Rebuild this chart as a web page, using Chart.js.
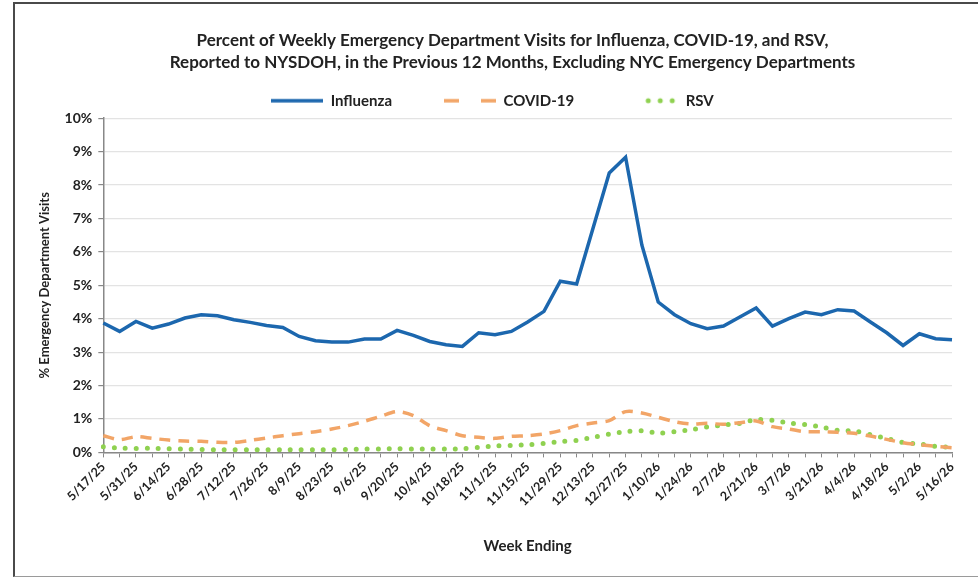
<!DOCTYPE html>
<html>
<head>
<meta charset="utf-8">
<script src="https://cdn.jsdelivr.net/npm/chart.js@4.4.1/dist/chart.umd.min.js"></script>
<style>
    body { margin: 0; background: #fff; }
    #wrap { position: relative; width: 978px; height: 577px; }
    #frame {
        position: absolute; left: 13px; top: 2px; width: 970px; height: 572px;
        border-left: 2px solid #4a4a4a; border-top: 2px solid #4a4a4a;
        border-bottom: 1px solid #9a9a9a; pointer-events: none;
    }
</style>
</head>
<body>
<div id="wrap">
    <canvas id="edChart" width="978" height="577"></canvas>
    <div id="frame"></div>
</div>
<script>
// Week ending dates (x categories)
const weeks = [
    '5/17/25', '5/24/25', '5/31/25', '6/7/25', '6/14/25', '6/21/25', '6/28/25', '7/5/25', '7/12/25', '7/19/25',
    '7/26/25', '8/2/25', '8/9/25', '8/16/25', '8/23/25', '8/30/25', '9/6/25', '9/13/25', '9/20/25', '9/27/25',
    '10/4/25', '10/11/25', '10/18/25', '10/25/25', '11/1/25', '11/8/25', '11/15/25', '11/22/25', '11/29/25', '12/6/25',
    '12/13/25', '12/20/25', '12/27/25', '1/3/26', '1/10/26', '1/17/26', '1/24/26', '1/31/26', '2/7/26', '2/14/26',
    '2/21/26', '2/28/26', '3/7/26', '3/14/26', '3/21/26', '3/28/26', '4/4/26', '4/11/26', '4/18/26', '4/25/26',
    '5/2/26', '5/9/26', '5/16/26'
];

// % of ED visits
const influenza = [
    3.87, 3.62, 3.92, 3.72, 3.84, 4.02, 4.12, 4.09, 3.97, 3.89,
    3.80, 3.74, 3.47, 3.34, 3.30, 3.30, 3.39, 3.39, 3.65, 3.50,
    3.32, 3.22, 3.17, 3.58, 3.52, 3.62, 3.90, 4.22, 5.12, 5.04,
    6.70, 8.36, 8.83, 6.20, 4.50, 4.12, 3.85, 3.70, 3.78, 4.05,
    4.32, 3.78, 4.00, 4.20, 4.12, 4.27, 4.23, 3.90, 3.58, 3.20,
    3.55, 3.40, 3.37
];
const covid = [
    0.50, 0.38, 0.47, 0.42, 0.37, 0.34, 0.33, 0.30, 0.30, 0.36,
    0.43, 0.50, 0.56, 0.62, 0.70, 0.80, 0.93, 1.08, 1.22, 1.10,
    0.80, 0.65, 0.50, 0.45, 0.42, 0.48, 0.50, 0.55, 0.65, 0.80,
    0.88, 0.95, 1.22, 1.18, 1.05, 0.92, 0.85, 0.87, 0.84, 0.89,
    0.94, 0.77, 0.70, 0.62, 0.62, 0.60, 0.57, 0.49, 0.39, 0.29,
    0.23, 0.18, 0.14
];
const rsv = [
    0.17, 0.13, 0.12, 0.12, 0.11, 0.10, 0.09, 0.08, 0.08, 0.08,
    0.08, 0.08, 0.08, 0.08, 0.08, 0.09, 0.10, 0.10, 0.11, 0.10,
    0.10, 0.10, 0.11, 0.15, 0.19, 0.21, 0.23, 0.27, 0.32, 0.36,
    0.45, 0.55, 0.62, 0.65, 0.58, 0.62, 0.68, 0.76, 0.82, 0.87,
    0.98, 0.96, 0.88, 0.83, 0.76, 0.66, 0.64, 0.53, 0.42, 0.30,
    0.25, 0.18, 0.15
];

const yTicks = [0, 1, 2, 3, 4, 5, 6, 7, 8, 9, 10];

const BLUE = '#1c67ae';
const ORANGE = '#f2a567';
const GREEN = '#8fd150';
const FONT = 'Lato';

// small canvases used as legend symbols
function legendSymbol(color, dash, width, from) {
    const c = document.createElement('canvas');
    c.width = 52; c.height = 8;
    const g = c.getContext('2d');
    g.strokeStyle = color;
    g.lineWidth = width;
    g.lineCap = dash[0] === 0 ? 'round' : 'butt';
    g.setLineDash(dash);
    g.beginPath();
    g.moveTo(from, 4);
    g.lineTo(52, 4);
    g.stroke();
    return c;
}

// the title in the original sits a little right of the canvas centre
const nudgeTitle = {
    id: 'nudgeTitle',
    afterLayout(chart) {
        chart.titleBlock.left += 20;
        chart.titleBlock.right += 20;
    }
};

const ctx = document.getElementById('edChart').getContext('2d');
new Chart(ctx, {
    type: 'line',
    data: {
        labels: weeks,
        datasets: [
            {
                label: 'Influenza',
                data: influenza,
                borderColor: BLUE,
                borderWidth: 3.5,
                pointRadius: 0,
                pointStyle: legendSymbol(BLUE, [], 3.5, 0),
                tension: 0
            },
            {
                label: 'COVID-19',
                data: covid,
                borderColor: ORANGE,
                borderWidth: 3.5,
                borderDash: [11, 8],
                pointRadius: 0,
                pointStyle: legendSymbol(ORANGE, [15, 22], 3.5, 0),
                tension: 0.3
            },
            {
                label: 'RSV',
                data: rsv,
                borderColor: GREEN,
                borderWidth: 5,
                borderDash: [0, 11],
                borderCapStyle: 'round',
                pointRadius: 0,
                pointStyle: legendSymbol(GREEN, [0, 12], 5, 22),
                tension: 0.3
            }
        ]
    },
    plugins: [nudgeTitle],
    options: {
        responsive: false,
        animation: false,
        layout: { padding: { left: 33, right: 26, top: 0, bottom: 18 } },
        plugins: {
            title: {
                display: true,
                text: [
                    'Percent of Weekly Emergency Department Visits for Influenza, COVID-19, and RSV,',
                    'Reported to NYSDOH, in the Previous 12 Months, Excluding NYC Emergency Departments'
                ],
                color: '#222',
                font: { family: FONT, size: 17, weight: 'bold', lineHeight: 1.3 },
                padding: { top: 29, bottom: -32 }
            },
            legend: {
                position: 'top',
                maxHeight: 80,
                labels: {
                    usePointStyle: true,
                    pointStyleWidth: 52,
                    boxHeight: 8,
                    padding: 52,
                    color: '#222',
                    font: { family: FONT, size: 15, weight: 'bold' }
                }
            },
            tooltip: { enabled: false }
        },
        scales: {
            x: {
                grid: { drawOnChartArea: false, drawTicks: true, tickLength: 5, color: '#888' },
                border: { color: '#888', width: 1.5 },
                ticks: {
                    autoSkip: false,
                    minRotation: 45,
                    maxRotation: 45,
                    padding: 2,
                    color: '#222',
                    font: { family: FONT, size: 12.5, weight: 'bold' },
                    callback: (v, i) => (i % 2 === 0 ? weeks[i] : '')
                },
                title: {
                    display: true,
                    text: 'Week Ending',
                    color: '#222',
                    font: { family: FONT, size: 15, weight: 'bold' },
                    padding: { top: 26 }
                }
            },
            y: {
                min: yTicks[0],
                max: yTicks[yTicks.length - 1],
                afterBuildTicks: axis => { axis.ticks = yTicks.map(v => ({ value: v })); },
                grid: { color: '#e3e3e3', lineWidth: 1.2, tickLength: 5, tickColor: '#888' },
                border: { color: '#888', width: 1.5 },
                ticks: {
                    color: '#222',
                    padding: 6,
                    font: { family: FONT, size: 14, weight: 'bold' },
                    callback: v => v + '%'
                },
                title: {
                    display: true,
                    text: '% Emergency Department Visits',
                    color: '#222',
                    font: { family: FONT, size: 13, weight: 'bold' },
                    padding: { bottom: 6 }
                }
            }
        }
    }
});
</script>
</body>
</html>
